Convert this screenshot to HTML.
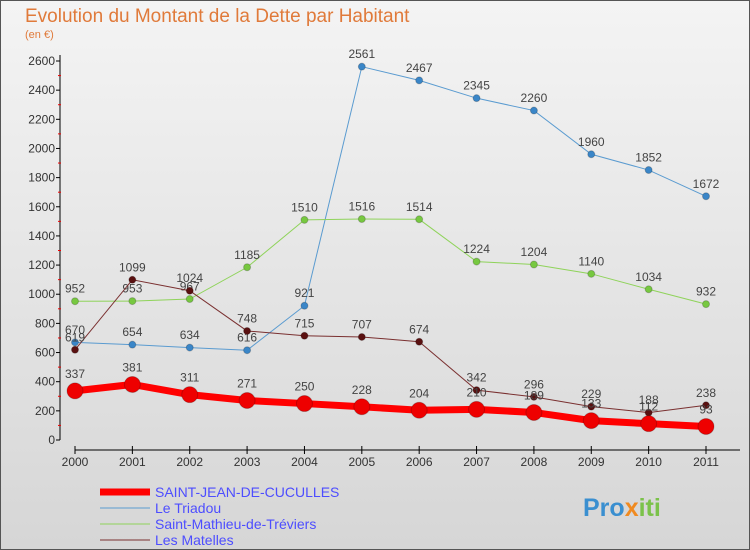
<!DOCTYPE html>
<html><head><meta charset="utf-8"><style>
body{margin:0;background:#fff}
svg{display:block;font-family:"Liberation Sans",sans-serif}
</style></head><body>
<svg id="chart" width="750" height="550">
<defs><linearGradient id="bg" x1="0" y1="0" x2="0" y2="1"><stop offset="0" stop-color="#f4f4f4"/><stop offset="1" stop-color="#d6d6d6"/></linearGradient></defs>
<rect x="0.5" y="0.5" width="749" height="549" fill="url(#bg)" stroke="#555"/>
<text x="25" y="22" font-size="19" fill="#e07a3a">Evolution du Montant de la Dette par Habitant</text>
<text x="25" y="38" font-size="11" fill="#e07a3a">(en €)</text>
<g id="axes"></g><g id="series"></g><g id="legend"></g>
<text x="583" y="516" font-size="25" font-weight="bold" fill="#3a8fd0">Pro<tspan fill="#f08a20">x</tspan><tspan fill="#7bc24a">iti</tspan></text>
</svg>
<script>
const years=["2000","2001","2002","2003","2004","2005","2006","2007","2008","2009","2010","2011"];
const yTicks=[0,200,400,600,800,1000,1200,1400,1600,1800,2000,2200,2400,2600];
const stJean=[337,381,311,271,250,228,204,210,189,133,112,93];
const triadou=[670,654,634,616,921,2561,2467,2345,2260,1960,1852,1672];
const stMathieu=[952,953,967,1185,1510,1516,1514,1224,1204,1140,1034,932];
const matelles=[619,1099,1024,748,715,707,674,342,296,229,188,238];
const seriesNames=["SAINT-JEAN-DE-CUCULLES","Le Triadou","Saint-Mathieu-de-Tréviers","Les Matelles"];
const NS="http://www.w3.org/2000/svg";
const xs=i=>75+i*(706-75)/11;
const ys=v=>440-v*(440-61)/2600;
function mk(tag,attrs,parent){const e=document.createElementNS(NS,tag);for(const k in attrs)e.setAttribute(k,attrs[k]);parent.appendChild(e);return e;}
const axes=document.getElementById('axes');
let a=mk('line',{x1:60,y1:55,x2:60,y2:440,stroke:'#000','stroke-width':1},axes);


a=mk('line',{x1:75,y1:450,x2:740,y2:450,stroke:'#000','stroke-width':1},axes);


yTicks.forEach((t,i)=>{const y=ys(t);
 mk('line',{x1:56,y1:y,x2:60,y2:y,stroke:'#000'},axes);
 if(i<yTicks.length-1)mk('line',{x1:58,y1:ys(t+100),x2:61,y2:ys(t+100),stroke:'#e00'},axes);
 const tx=mk('text',{x:55,y:y+4,'font-size':12,fill:'#333','text-anchor':'end'},axes);tx.textContent=t;
 
 
});
years.forEach((yr,i)=>{const x=xs(i);
 mk('line',{x1:x,y1:446,x2:x,y2:454,stroke:'#000'},axes);
 const tx=mk('text',{x:x,y:466,'font-size':12,fill:'#333','text-anchor':'middle'},axes);tx.textContent=yr;
 
 
});
const sg=document.getElementById('series');
const defs=[[triadou,'#5a9bd0','#3a86c8',1,3.5,'triadou'],[stMathieu,'#8fd35a','#77c840',1,3.5,'st-mathieu'],[matelles,'#7a3030','#5a1010',1,3.5,'matelles'],[stJean,'#ff0000','#ee0000',7,8,'st-jean']];
defs.forEach(([d,lc,pc,w,r,nm])=>{
 const g=mk('g',{},sg);
 
 
 const p=mk('polyline',{points:d.map((v,i)=>xs(i)+','+ys(v)).join(' '),fill:'none',stroke:lc,'stroke-width':w},g);
 
 
 d.forEach((v,i)=>{
  const c=mk('circle',{cx:xs(i),cy:ys(v),r:r,fill:pc,stroke:'rgba(0,0,0,0.2)'},g);
  
  
  const t=mk('text',{x:xs(i),y:ys(v)-(r+5),'font-size':12,fill:'#444','text-anchor':'middle'},g);t.textContent=v;
  
  
 });
});
const lg=document.getElementById('legend');
const lc=['#ff0000','#5a9bd0','#8fd35a','#7a3030'],lw=[7,1,1,1];
seriesNames.forEach((n,i)=>{const y=492+i*16;
 const l=mk('line',{x1:100,y1:y,x2:150,y2:y,stroke:lc[i],'stroke-width':lw[i]},lg);
 
 
 const t=mk('text',{x:155,y:y+5,'font-size':14,fill:'#4d4dff'},lg);t.textContent=n;
 
 
});
</script>
</body></html>
